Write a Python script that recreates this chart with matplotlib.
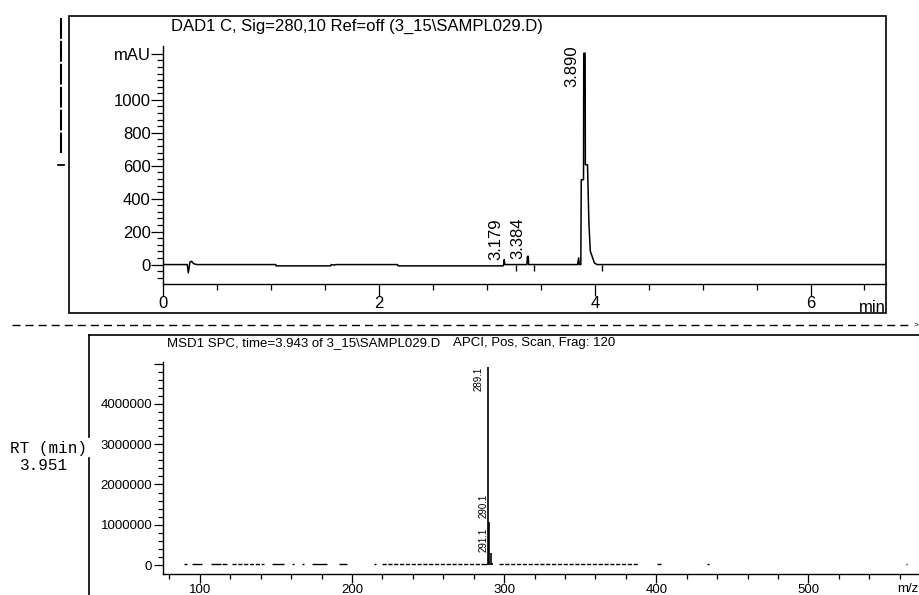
import matplotlib
matplotlib.use("Agg")
import matplotlib.pyplot as plt
from matplotlib.lines import Line2D
from matplotlib.patches import Rectangle
from matplotlib.ticker import FixedLocator

# ---------------- data ----------------
dad_title = "DAD1 C, Sig=280,10 Ref=off (3_15\\SAMPL029.D)"
dad_time = [0.00, 0.22, 0.23, 0.245, 0.26, 0.28, 0.31, 1.04, 1.045, 1.55, 1.555,
            1.58, 1.60, 2.17, 2.175, 3.15, 3.155, 3.16, 3.165, 3.19, 3.37, 3.375,
            3.383, 3.386, 3.84, 3.850, 3.855, 3.870, 3.874, 3.895, 3.897, 3.910,
            3.912, 3.932, 3.945, 3.958, 3.980, 3.996, 4.02, 6.70]
dad_mau = [0, 0, -50, 15, 20, 5, 0, 0, -8, -8, 0,
           -3, 0, 0, -8, -8, 0, 30, 0, 0, 0, 50,
           50, 0, 0, 40, 0, 0, 515, 515, 1283, 1283,
           606, 606, 250, 81, 40, 10, 0, 0]
dad_peak_rt = ["3.179", "3.384", "3.890"]
dad_peak_t = [3.16, 3.38, 3.897]
dad_peak_h = [30, 50, 1283]
dad_marks = [3.27, 3.44, 4.07]
dad_xticks = [0, 2, 4, 6]
dad_yticks = [0, 200, 400, 600, 800, 1000, 1280]
dad_ylabels = ["0", "200", "400", "600", "800", "1000", "mAU"]

ms_title = "MSD1 SPC, time=3.943 of 3_15\\SAMPL029.D"
ms_title2 = "APCI, Pos, Scan, Frag: 120"
ms_mz = [289.1, 290.1, 291.1, 292.1]
ms_int = [4910000, 1070000, 300000, 60000]
ms_labels = ["289.1", "290.1", "291.1"]
noise_ranges = [(89.5, 91.7), (95, 101.6), (107, 113.6), (114.7, 118), (121.3, 142.1),
                (147.6, 155.2), (160.7, 161.8), (167.3, 168.4), (173.9, 183.8),
                (191.4, 196.9), (214.4, 215.5), (219.9, 284.5), (284.5, 289),
                (296.3, 388.3), (400.7, 402.9), (433.6, 434.7), (564.2, 565.0)]
noise_level = 25000
ms_xticks = [100, 200, 300, 400, 500]
ms_yticks = [0, 1000000, 2000000, 3000000, 4000000, 5000000]
ms_ylabels = ["0", "1000000", "2000000", "3000000", "4000000", ""]
rt_label = "RT (min)"
rt_value = "3.951"

# ---------------- layout helpers ----------------
W, H = 920, 595
plt.rcParams['font.family'] = ['Liberation Sans', 'DejaVu Sans']
plt.rcParams['lines.scale_dashes'] = False

def fx(x):
    return x / W

def fy(y):
    return 1 - y / H

fig = plt.figure(figsize=(W / 100, H / 100), dpi=100)
fig.patch.set_facecolor('white')

# ---------------- top: DAD chromatogram ----------------
axt = fig.add_axes([fx(163.5), fy(284), fx(886) - fx(163.5), fy(46) - fy(284)])
axt.set_facecolor('none')
axt.plot(dad_time, dad_mau, color='black', lw=1.1)
axt.vlines(dad_marks, -40, 0, color='black', lw=1.0)
axt.set_xlim(0, 6.70)
axt.set_ylim(-118, 1327)
for s in ['top', 'right']:
    axt.spines[s].set_visible(False)
for s in ['left', 'bottom']:
    axt.spines[s].set_linewidth(1.0)
axt.xaxis.set_major_locator(FixedLocator(dad_xticks))
axt.set_xticklabels([str(v) for v in dad_xticks])
axt.xaxis.set_minor_locator(FixedLocator([0.5, 1, 1.5, 2.5, 3, 3.5, 4.5, 5, 5.5, 6.5]))
axt.yaxis.set_major_locator(FixedLocator(dad_yticks))
axt.set_yticklabels(dad_ylabels)
axt.yaxis.set_minor_locator(FixedLocator([v for v in range(-80, 1281, 40) if v not in dad_yticks]))
axt.tick_params(axis='both', which='major', direction='out', length=8.3, width=0.9,
                labelsize=12, pad=1)
axt.tick_params(axis='both', which='minor', direction='out', length=4.6, width=0.9)
axt.tick_params(axis='x', which='major', pad=0)
for lab, t, h, dx, dy, va in zip(dad_peak_rt, dad_peak_t, dad_peak_h,
                                  [-5.9, -7.1, -8.6], [0, -2.2, 6],
                                  ['bottom', 'bottom', 'top']):
    axt.annotate(lab, xy=(t, h), xytext=(dx, dy), textcoords='offset points',
                 rotation=90, ha='center', va=va, fontsize=12)

fig.add_artist(Rectangle((fx(69), fy(313)), fx(886) - fx(69), fy(16) - fy(313),
                         transform=fig.transFigure, fill=False, lw=1.2, ec='black'))
fig.text(fx(171), fy(26), dad_title, fontsize=12, ha='left', va='center')
fig.text(fx(872), fy(312.5), "min", fontsize=12, ha='center', va='baseline')

# left dashed marker
fig.add_artist(Line2D([fx(61), fx(61)], [fy(18), fy(153)], transform=fig.transFigure,
                      color='black', lw=1.5, linestyle=(0, (15, 1.5))))
fig.add_artist(Line2D([fx(58), fx(64)], [fy(165), fy(165)], transform=fig.transFigure,
                      color='black', lw=1.3))

# separator
fig.add_artist(Line2D([fx(12), fx(912)], [fy(325), fy(325)], transform=fig.transFigure,
                      color='black', lw=1.0, linestyle=(0, (5.8, 3.6))))
fig.text(fx(914), fy(325), ">", fontsize=6, ha='left', va='center')

# ---------------- bottom: MS spectrum ----------------
axb = fig.add_axes([fx(162.5), fy(574), fx(940) - fx(162.5), fy(362) - fy(574)])
axb.set_facecolor('none')
axb.vlines(ms_mz, 0, ms_int, color='black', lw=1.2)
for a, b in noise_ranges:
    ls = (0, (3, 1.2)) if (b - a) > 15 else '-'
    axb.hlines(noise_level, a, b, color='black', lw=1.0, linestyles=[ls])
axb.set_xlim(75.4, 586.5)
axb.set_ylim(-223000, 5040000)
for s in ['top', 'right']:
    axb.spines[s].set_visible(False)
for s in ['left', 'bottom']:
    axb.spines[s].set_linewidth(1.0)
axb.xaxis.set_major_locator(FixedLocator(ms_xticks))
axb.set_xticklabels([str(v) for v in ms_xticks])
axb.xaxis.set_minor_locator(FixedLocator([v for v in range(80, 581, 20) if v not in ms_xticks]))
axb.yaxis.set_major_locator(FixedLocator(ms_yticks))
axb.set_yticklabels(ms_ylabels)
axb.yaxis.set_minor_locator(FixedLocator([v for v in range(0, 5000001, 200000) if v not in ms_yticks]))
axb.tick_params(axis='both', which='major', direction='out', length=6.8, width=0.9,
                labelsize=9.5, pad=0.5)
axb.tick_params(axis='both', which='minor', direction='out', length=3.4, width=0.9)
for lab, mz, h, dx, dy, va in zip(ms_labels, ms_mz, ms_int,
                                   [-6.4, -3.9, -5.0], [0, 2.8, 0.6],
                                   ['top', 'bottom', 'bottom']):
    axb.annotate(lab, xy=(mz, h), xytext=(dx, dy), textcoords='offset points',
                 rotation=90, ha='center', va=va, fontsize=7)

fig.add_artist(Line2D([fx(89), fx(920)], [fy(335), fy(335)], transform=fig.transFigure,
                      color='black', lw=1.2))
fig.add_artist(Line2D([fx(89), fx(89)], [fy(335), fy(437)], transform=fig.transFigure,
                      color='black', lw=1.2))
fig.add_artist(Line2D([fx(89), fx(89)], [fy(458), fy(595)], transform=fig.transFigure,
                      color='black', lw=1.2))
fig.text(fx(167), fy(343), ms_title, fontsize=9.5, ha='left', va='center')
fig.text(fx(453), fy(343), ms_title2, fontsize=9.5, ha='left', va='center')
fig.text(fx(918), fy(589), "m/z", fontsize=9.5, ha='right', va='center')
fig.text(fx(10), fy(449), rt_label, fontsize=11.5, ha='left', va='center',
         family=['Liberation Mono', 'DejaVu Sans Mono'])
fig.text(fx(20), fy(466), rt_value, fontsize=11.5, ha='left', va='center',
         family=['Liberation Mono', 'DejaVu Sans Mono'])

fig.savefig("out.png", dpi=100)
